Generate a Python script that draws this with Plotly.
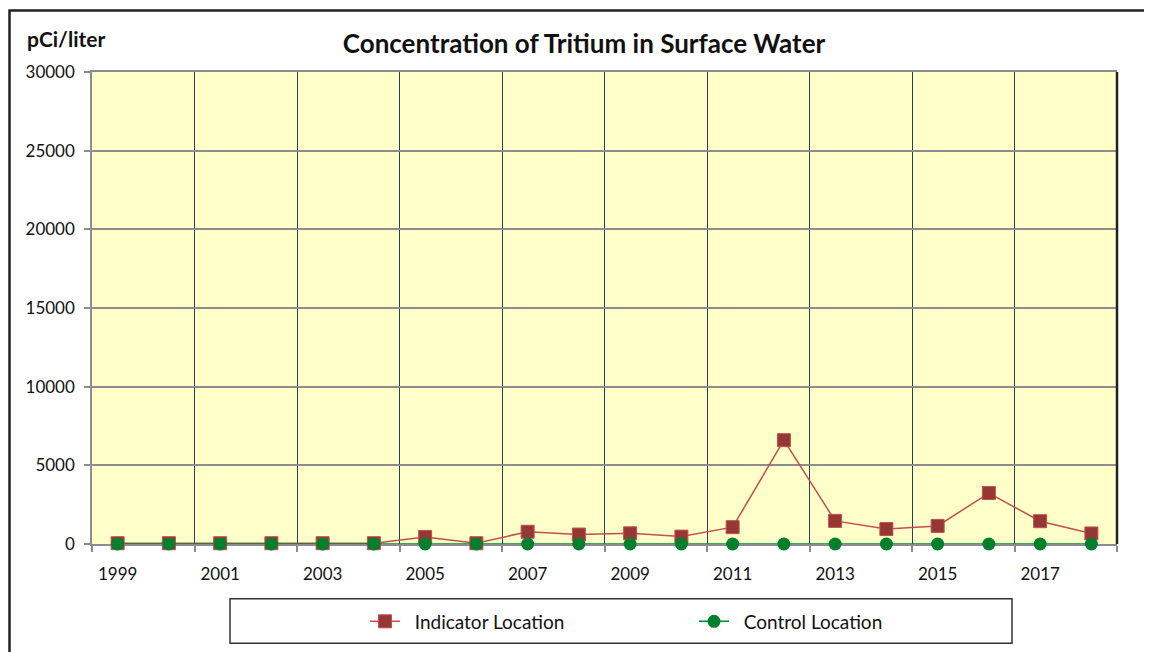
import plotly.graph_objects as go

years = list(range(1999, 2019))
indicator = [50, 50, 50, 50, 50, 50, 450, 50, 780, 600, 680, 470, 1070, 6600, 1470, 950, 1150, 3240, 1450, 670]
control = [0] * 20
ytick_vals = [0, 5000, 10000, 15000, 20000, 25000, 30000]
ytick_text = ["0", "5000", "10000", "15000", "20000", "25000", "30000"]
xtick_labels = [str(y) for y in range(1999, 2019, 2)]

FONT = "Lato"
OFF = 8  # page body margin
W, H = 1152 - OFF, 652 - OFF
L, R, T, B = 92 - OFF, 1117 - OFF, 72 - OFF, 547 - OFF
PW, PH = R - L, B - T


def px(xs):
    return (xs - OFF - L) / PW


def py(ys):
    return (B - (ys - OFF)) / PH


NB = "\u00a0\u00a0"
fig = go.Figure()
fig.add_trace(go.Scatter(
    x=years, y=indicator, mode="lines+markers", name=NB + "Indicator Location", cliponaxis=False,
    line=dict(color="#C0504D", width=1.5),
    marker=dict(symbol="square", size=13, color="#953735", line=dict(color="#C0504D", width=1)),
))
fig.add_trace(go.Scatter(
    x=years, y=control, mode="lines+markers", name=NB + "Control Location", cliponaxis=False,
    line=dict(color="#00883A", width=1.5),
    marker=dict(symbol="circle", size=13, color="#00802F", line=dict(color="#00802F", width=0)),
))

fig.update_layout(
    width=W, height=H,
    margin=dict(l=L, r=W - R, t=T, b=H - B),
    paper_bgcolor="white", plot_bgcolor="#FFFFC9",
    font=dict(family=FONT, size=16, color="#1a1a1a"),
    title=dict(text="<b>Concentration of Tritium in Surface Water</b>", x=px(584), xanchor="center",
               xref="paper", y=1 - (44 - OFF) / H, yanchor="middle", font=dict(family=FONT, size=26, color="#111")),
    showlegend=True,
    legend=dict(orientation="h", x=px(365), xanchor="left", y=py(625), yanchor="middle",
                bgcolor="rgba(0,0,0,0)", borderwidth=0, entrywidth=284, entrywidthmode="pixels",
                font=dict(family=FONT, size=19, color="#111")),
    xaxis=dict(range=[1998.5, 2018.5], tickmode="array", tickvals=list(range(1999, 2019, 2)),
               ticktext=xtick_labels, ticks="", showgrid=False, zeroline=False, layer="below traces",
               showline=True, linecolor="#8C8C8C", linewidth=1.5, mirror=True, ticklabelstandoff=14,
               tickfont=dict(family=FONT, size=17, color="#111"),
               minor=dict(tick0=1998.5, dtick=2, showgrid=True, gridcolor="#243F60", gridwidth=1,
                          ticks="outside", ticklen=6, tickcolor="#8C8C8C", tickwidth=1.5)),
    yaxis=dict(range=[0, 30000], tickmode="array", tickvals=ytick_vals, ticktext=ytick_text,
               ticks="outside", ticklen=6, tickcolor="#8C8C8C", tickwidth=1.5, layer="below traces",
               showgrid=True, gridcolor="#8C8C8C", gridwidth=1.5, zeroline=False, ticklabelstandoff=6,
               showline=True, linecolor="#8C8C8C", linewidth=1.5,
               tickfont=dict(family=FONT, size=17, color="#111")),
    annotations=[dict(text="<b>pCi/liter</b>", xref="paper", yref="paper",
                      x=px(25), y=py(38), xanchor="left", yanchor="middle",
                      showarrow=False, font=dict(family=FONT, size=21, color="#111"))],
    shapes=[
        dict(type="rect", xref="paper", yref="paper", x0=px(9.5), x1=px(1170),
             y0=py(670), y1=py(10), line=dict(color="#222", width=2.5), layer="below"),
        dict(type="rect", xref="paper", yref="paper", x0=px(230), x1=px(1012),
             y0=py(647), y1=py(602), line=dict(color="#333", width=1.5)),
        dict(type="line", xref="paper", yref="paper", x0=1, x1=1, y0=0, y1=1,
             line=dict(color="#222", width=2.5)),
    ],
)
fig.write_html("out.html")
